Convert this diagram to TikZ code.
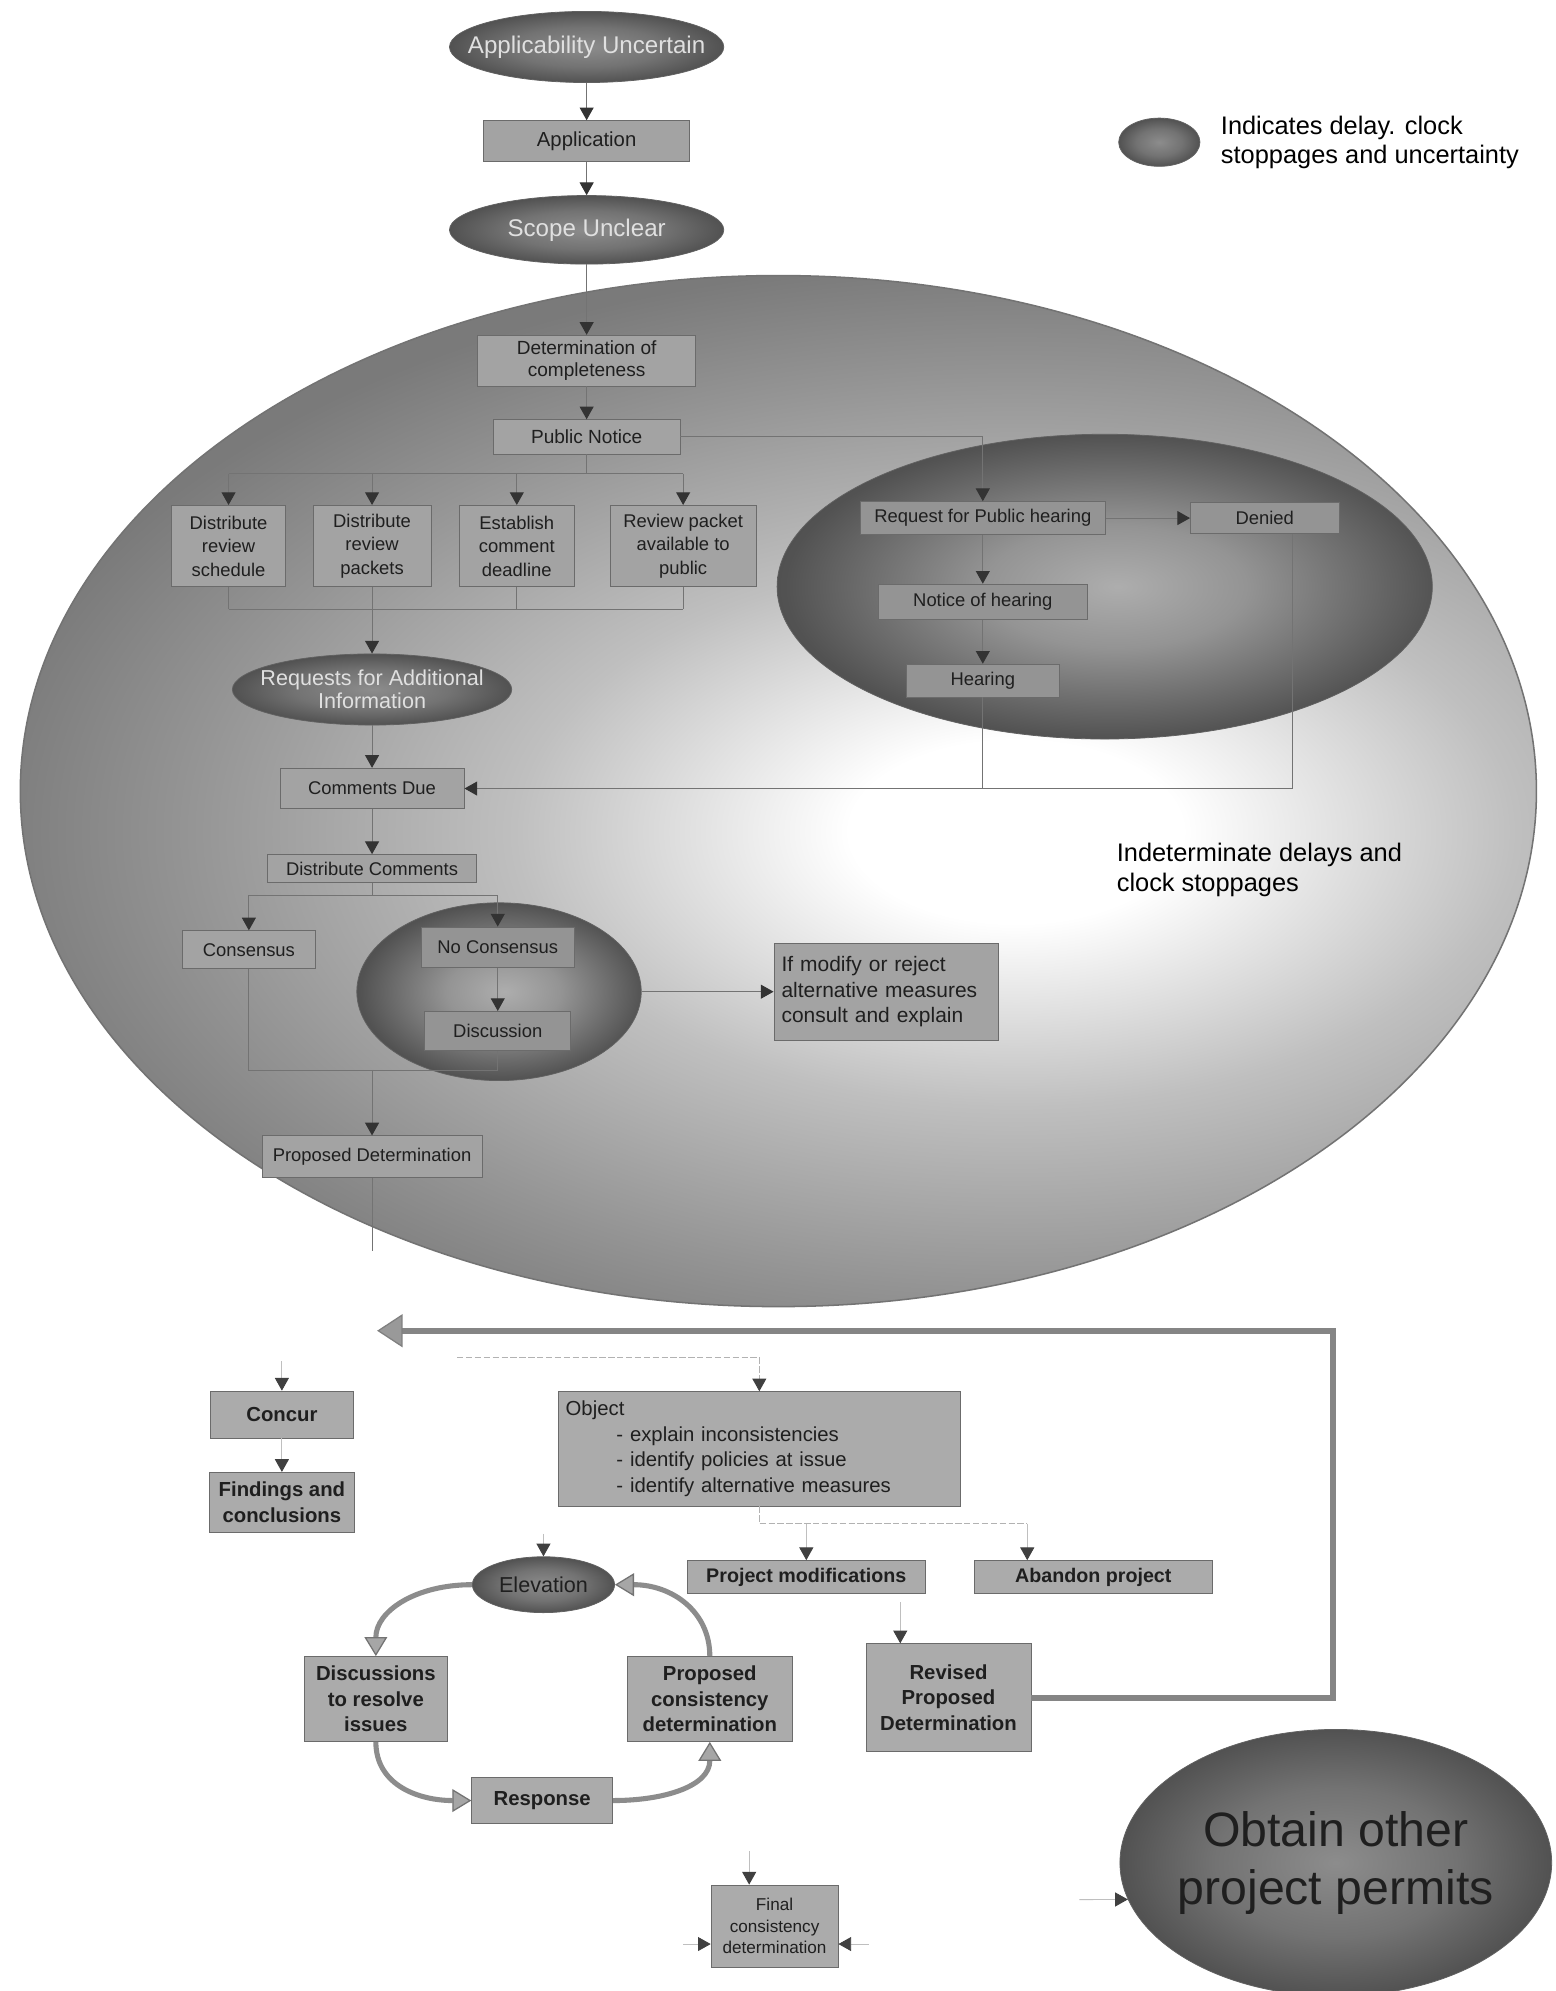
\documentclass[tikz,border=0pt]{standalone}
\usepackage{fontspec}
\setmainfont{Liberation Sans}
\usetikzlibrary{shapes.geometric,arrows.meta,calc}
\newcommand{\myfs}[2]{\fontsize{#1}{#2}\selectfont}
\pgfdeclareradialshading{bigshade}{\pgfpoint{0bp}{0bp}}{color(0bp)=(white); color(4bp)=(white); color(12bp)=(black!25); color(20bp)=(black!42); color(25bp)=(black!52); color(50bp)=(black!58)}
\pgfdeclareradialshading{darkshade}{\pgfpoint{0bp}{0bp}}{color(0bp)=(black!45); color(14bp)=(black!55); color(25bp)=(black!68); color(50bp)=(black!72)}
\pgfdeclareradialshading{hshade}{\pgfpoint{1bp}{0bp}}{color(0bp)=(black!32); color(10bp)=(black!42); color(25bp)=(black!68); color(50bp)=(black!72)}
\begin{document}
\begin{tikzpicture}[x=1pt,y=-1pt,
  box/.style={rectangle, fill=black!36, draw=black!58, line width=0.6pt, inner sep=3pt, align=center, text=black!88},
  bbox/.style={box, fill=black!33, font=\myfs{16}{20}\bfseries},
  ibox/.style={box, font=\myfs{14.5}{18.5}},
  dell/.style={ellipse, shading=darkshade, draw=black!62, line width=0.6pt, inner sep=0pt},
  lbl/.style={align=center, text=black!12},
  dlbl/.style={align=center, text=black!88},
  con/.style={draw=black!55, line width=0.8pt},
  arr/.style={con, -{Triangle[width=11pt,length=10pt,color=black!80]}},
  faint/.style={draw=black!25, line width=0.7pt, -{Triangle[width=11pt,length=10pt,color=black!75]}},
  dfaint/.style={draw=black!30, line width=0.7pt, dash pattern=on 5pt off 2pt},
  fline/.style={dfaint, -{Triangle[width=11pt,length=10pt,color=black!75]}},
  cyc/.style={draw=black!45, line width=4pt, -{Triangle[width=18pt,length=15pt,color=black!55,fill=black!35,line width=1pt]}},
  bigarr/.style={draw=black!48, line width=5pt, line join=miter, -{Triangle[width=26pt,length=20pt,color=black!50,fill=black!40,line width=1pt]}}
]
\useasboundingbox (0,0) rectangle (1225,1568);
\fill[white] (0,0) rectangle (1225,1568);

% ---------- background regions
\begin{scope}
\clip (613,623) ellipse [x radius=597pt, y radius=406pt];
\path[shading=bigshade] (-20,205) rectangle (1620,1105);
\end{scope}
\node[ellipse, minimum width=1194pt, minimum height=812pt, inner sep=0pt, draw=black!55, line width=1.2pt] (bigell) at (613,623) {};
\node[dell, shading=hshade, minimum width=516pt, minimum height=240pt] (hcell) at (870,462) {};
\node[dell, shading=hshade, minimum width=224pt, minimum height=140pt] (ncell) at (393,781) {};

% ---------- legend
\node[dell, minimum width=64pt, minimum height=38pt] (lg) at (913,112) {};
\node[anchor=west, align=left, font=\myfs{20}{23}] (lgt) at (958,112) {Indicates delay. clock\\stoppages and uncertainty};

% ---------- top chain
\node[dell, minimum width=216pt, minimum height=56pt, label={[lbl,font=\myfs{19}{22}]center:Applicability Uncertain}] (au) at (462,37) {};
\node[box, minimum width=162pt, minimum height=32pt, font=\myfs{16}{19}] (app) at (462,111) {Application};
\node[dell, minimum width=216pt, minimum height=54pt, label={[lbl,font=\myfs{19}{22}]center:Scope Unclear}] (su) at (462,181) {};
\node[box, minimum width=172pt, minimum height=40pt, font=\myfs{15}{18}] (dc) at (462,284) {Determination of\\completeness};
\node[box, minimum width=147pt, minimum height=27pt, font=\myfs{15}{18}] (pn) at (462,344) {Public Notice};

\node[ibox, minimum width=90pt, minimum height=64pt] (drs) at (180,430) {Distribute\\review\\schedule};
\node[ibox, minimum width=93pt, minimum height=64pt] (drp) at (293,430) {Distribute\\review\\packets};
\node[ibox, minimum width=90pt, minimum height=64pt] (ecd) at (407,430) {Establish\\comment\\deadline};
\node[ibox, minimum width=115pt, minimum height=64pt] (rpa) at (538,430) {Review packet\\available to\\public};

\node[dell, minimum width=220pt, minimum height=56pt, label={[lbl,font=\myfs{17}{18}]center:Requests for Additional\\Information}] (rai) at (293,543) {};
\node[ibox, minimum width=145pt, minimum height=32pt] (cdue) at (293,621) {Comments Due};
\node[ibox, minimum width=165pt, minimum height=22pt] (dcom) at (293,684) {Distribute Comments};
\node[ibox, minimum width=105pt, minimum height=30pt] (cons) at (196,748) {Consensus};
\node[ibox, fill=black!42, minimum width=120pt, minimum height=32pt] (ncons) at (392,746) {No Consensus};
\node[ibox, fill=black!42, minimum width=115pt, minimum height=31pt] (disc) at (392,812) {Discussion};
\node[box, minimum width=177pt, minimum height=76pt, text width=165pt, align=left, inner sep=6pt, font=\myfs{16.5}{20}] (modify) at (698,781) {If modify or reject\\alternative measures\\consult and explain};
\node[ibox, minimum width=173pt, minimum height=33pt] (pd) at (293,911) {Proposed Determination};

\node[ibox, fill=black!42, minimum width=193pt, minimum height=26pt] (rph) at (774,408) {Request for Public hearing};
\node[ibox, fill=black!42, minimum width=117pt, minimum height=24pt] (den) at (996,408) {Denied};
\node[ibox, fill=black!42, minimum width=165pt, minimum height=28pt] (noh) at (774,474) {Notice of hearing};
\node[ibox, fill=black!42, minimum width=120pt, minimum height=26pt] (hear) at (774,536) {Hearing};

\node[anchor=west, align=left, font=\myfs{20}{24}] (indet) at (876,685) {Indeterminate delays and\\clock stoppages};

% ---------- bottom part
\node[bbox, minimum width=112pt, minimum height=37pt] (concur) at (222,1114) {Concur};
\node[bbox, minimum width=114pt, minimum height=47pt] (find) at (222,1183) {Findings and\\conclusions};
\node[box, fill=black!33, minimum width=317pt, minimum height=90pt, text width=305pt, align=left, inner sep=6pt, font=\myfs{16}{20}] (obj) at (598,1141) {Object\\\hspace*{40pt}- explain inconsistencies\\\hspace*{40pt}- identify policies at issue\\\hspace*{40pt}- identify alternative measures};
\node[bbox, font=\myfs{15.5}{19}\bfseries, minimum width=188pt, minimum height=26pt] (pm) at (635,1242) {Project modifications};
\node[bbox, font=\myfs{15.5}{19}\bfseries, minimum width=188pt, minimum height=26pt] (ab) at (861,1242) {Abandon project};
\node[dell, minimum width=112pt, minimum height=44pt, label={[dlbl,font=\myfs{17}{20}]center:Elevation}] (elev) at (428,1248) {};
\node[bbox, minimum width=112pt, minimum height=67pt] (d2) at (296,1338) {Discussions\\to resolve\\issues};
\node[bbox, minimum width=130pt, minimum height=67pt] (pcd) at (559,1338) {Proposed\\consistency\\determination};
\node[bbox, minimum width=111pt, minimum height=36pt] (resp) at (427,1418) {Response};
\node[bbox, minimum width=130pt, minimum height=85pt] (rpd) at (747,1337) {Revised\\Proposed\\Determination};
\node[box, fill=black!33, minimum width=100pt, minimum height=65pt, font=\myfs{13.5}{17}] (fcd) at (610,1517) {Final\\consistency\\determination};
\node[dell, minimum width=340pt, minimum height=210pt, label={[dlbl,font=\myfs{38}{46}]center:Obtain other\\project permits}] (obtain) at (1052,1467) {};

% ---------- connectors: top chain
\draw[arr] (au) -- (app);
\draw[arr] (app) -- (su);
\draw[arr] (su) -- (dc);
\draw[arr] (dc) -- (pn);
\coordinate (bt) at (462,373);
\draw[con] (pn.south) -- (bt);
\draw[con] (drs.north |- bt) -- (rpa.north |- bt);
\foreach \n in {drs,drp,ecd,rpa} \draw[arr] (\n.north |- bt) -- (\n.north);
\coordinate (bb) at (293,480);
\foreach \n in {drs,drp,ecd,rpa} \draw[con] (\n.south) -- (\n.south |- bb);
\draw[con] (drs.south |- bb) -- (rpa.south |- bb);
\draw[arr] (bb) -- (rai);
\draw[arr] (rai) -- (cdue);
\draw[arr] (cdue) -- (dcom);
\coordinate (bc) at (293,705);
\draw[con] (dcom.south) -- (bc);
\draw[con] (cons.north |- bc) -- (ncons.north |- bc);
\draw[arr] (cons.north |- bc) -- (cons.north);
\draw[arr] (ncons.north |- bc) -- (ncons.north);
\draw[arr] (ncons) -- (disc);
\draw[arr] (ncell.east) -- (modify.west);
\coordinate (bm) at (293,843);
\draw[con] (cons.south) -- (cons.south |- bm) -- (disc.south |- bm);
\draw[con] (disc.south) -- (disc.south |- bm);
\draw[arr] (bm) -- (pd);
\coordinate (pdend) at (293,985);
\draw[con] (pd.south) -- (pdend);

% hearing branch
\draw[arr] (pn.east) -| (rph.north);
\draw[arr] (rph) -- (den);
\draw[arr] (rph) -- (noh);
\draw[arr] (noh) -- (hear);
\draw[con] (hear.south) -- (hear.south |- cdue.east);
\draw[arr] ($(den.south)+(22,0)$) |- (cdue.east);

% ---------- connectors: bottom
\coordinate (rc) at (1050,1048);
\coordinate (re) at (297,1048);
\draw[bigarr] (rpd.east) -| (rc) -- (re);
\coordinate (fl) at (360,1069);
\draw[fline] (fl) -| (obj.north);
\coordinate (cu) at (222,1072);
\draw[faint] (cu) -- (concur.north);
\draw[faint] (concur) -- (find);
\coordinate (abx) at (809,1200);
\draw[dfaint] (obj.south) |- (abx);
\draw[faint] (pm.north |- abx) -- (pm.north);
\draw[faint] (abx) -- (abx |- ab.north);
\coordinate (el) at (428,1208);
\draw[faint] (el) -- (elev);
\draw[cyc] (elev.west) .. controls +(-45,0) and +(0,-35) .. (d2.north);
\draw[cyc] (d2.south) .. controls +(0,35) and +(-40,0) .. (resp.west);
\draw[cyc] (resp.east) .. controls +(40,0) and +(0,35) .. (pcd.south);
\draw[cyc] (pcd.north) .. controls +(0,-35) and +(45,0) .. (elev.east);
\coordinate (rv) at (709,1262);
\draw[faint] (rv) -- (rv |- rpd.north);
\coordinate (fu) at (590,1458);
\draw[faint] (fu) -- (fu |- fcd.north);
\coordinate (fl2) at (538,1531);
\draw[faint] (fl2) -- (fl2 -| fcd.west);
\coordinate (fr2) at (684,1531);
\draw[faint] (fr2) -- (fr2 -| fcd.east);
\coordinate (ol) at (850,1496);
\draw[faint] (ol) -- (obtain.190);
\end{tikzpicture}
\end{document}
